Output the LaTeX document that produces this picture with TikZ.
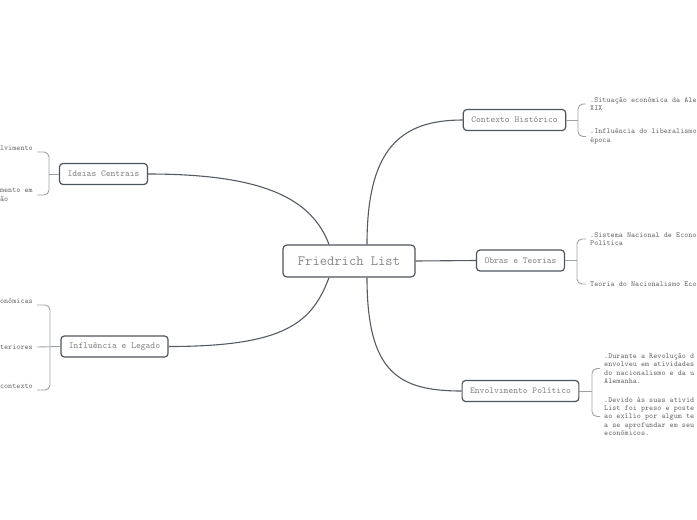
\documentclass[tikz,border=0pt]{standalone}
\usepackage{fontspec}
\definecolor{edgec}{HTML}{555B63}
\definecolor{boxln}{HTML}{4F555C}
\definecolor{brkc}{HTML}{9DA1A6}
\definecolor{txtc}{HTML}{858585}
\definecolor{leafc}{HTML}{6A6A6A}
\begin{document}
\begin{tikzpicture}[x=1pt,y=-1pt,
  topic/.style={draw=boxln, line width=1.2pt, rounded corners=3.5pt, fill=white, text=txtc,
    inner xsep=8pt, inner ysep=0pt, minimum height=21pt, font=\ttfamily\fontsize{9.14}{11}\selectfont},
  root/.style={topic, inner xsep=15pt, minimum height=32pt, rounded corners=4pt,
    font=\ttfamily\fontsize{14.17}{16}\selectfont},
  leaf/.style={text=leafc, inner xsep=4pt, inner ysep=0pt, align=left,
    font=\ttfamily\fontsize{7.71}{8.3}\selectfont},
  conn/.style={draw=edgec, line width=1.1pt},
  brk/.style={draw=brkc, line width=0.9pt, rounded corners=5pt}]
\useasboundingbox (0,0) rectangle (697,520);

% main nodes
\node[root] (c) at (349,261) {Friedrich List};
\node[topic] (ctx) at (514.5,120) {Contexto Histórico};
\node[topic] (ob) at (520.5,260.5) {Obras e Teorias};
\node[topic] (en) at (520.5,391) {Envolvimento Político};
\node[topic] (id) at (103.5,174) {Ideias Centrais};
\node[topic] (inf) at (114.5,346.5) {Influência e Legado};

% right leaves
\node[leaf, anchor=west] (ctx1) at (586,104) {.Situação econômica da Ale\\XIX};
\node[leaf, anchor=west] (ctx2) at (586,136.5) {.Influência do liberalismo\\época};
\node[leaf, anchor=west] (ob1) at (586,239) {.Sistema Nacional de Econo\\Política};
\node[leaf, anchor=west] (ob2) at (586,284) {Teoria do Nacionalismo Eco};
\node[leaf, anchor=west] (en1) at (600,368.5) {.Durante a Revolução d\\envolveu em atividades\\do nacionalismo e da u\\Alemanha.};
\node[leaf, anchor=west] (en2) at (600,416.5) {.Devido às suas ativid\\List foi preso e poste\\ao exílio por algum te\\a se aprofundar em seu\\econômicos.};

% left leaves
\node[leaf, anchor=east] (id1) at (37,148) {lvimento};
\node[leaf, anchor=east] (id2) at (37,195) {mento em\\ão};
\node[leaf, anchor=east] (inf1) at (37,301) {onômicas};
\node[leaf, anchor=east] (inf2) at (37,347) {teriores};
\node[leaf, anchor=east] (inf3) at (37,386) {contexto};

% bracket points
\coordinate (bctx) at (578,120);
\coordinate (bob) at (577,260.5);
\coordinate (ben) at (592,391);
\coordinate (bid) at (49,174);
\coordinate (binf) at (50,346.5);

% main connectors
\draw[conn] ([xshift=18pt]c.north) .. controls +(0,-95) and +(-63,0) .. (ctx.west);
\draw[conn] (c.east) -- (ob.west);
\draw[conn] ([xshift=18pt]c.south) .. controls +(0,95) and +(-63,0) .. (en.west);
\draw[conn] ([xshift=-20pt]c.north) .. controls +(-17,-45) and +(117,0) .. (id.east);
\draw[conn] ([xshift=-20pt]c.south) .. controls +(-17,45) and +(117,0) .. (inf.east);

% brackets
\draw[brk] (ctx.east) -- (bctx);
\draw[brk] (ctx1.west) -| (bctx) |- (ctx2.west);
\draw[brk] (ob.east) -- (bob);
\draw[brk] (ob1.west) -| (bob) |- (ob2.west);
\draw[brk] (en.east) -- (ben);
\draw[brk] (en1.west) -| (ben) |- (en2.west);
\draw[brk] (id.west) -- (bid);
\draw[brk] ([yshift=-4pt]id1.east) -| (bid) |- (id2.east);
\draw[brk] (inf.west) -- (inf2.east);
\draw[brk] ([yshift=-4pt]inf1.east) -| (binf) |- ([yshift=-4pt]inf3.east);
\end{tikzpicture}
\end{document}
